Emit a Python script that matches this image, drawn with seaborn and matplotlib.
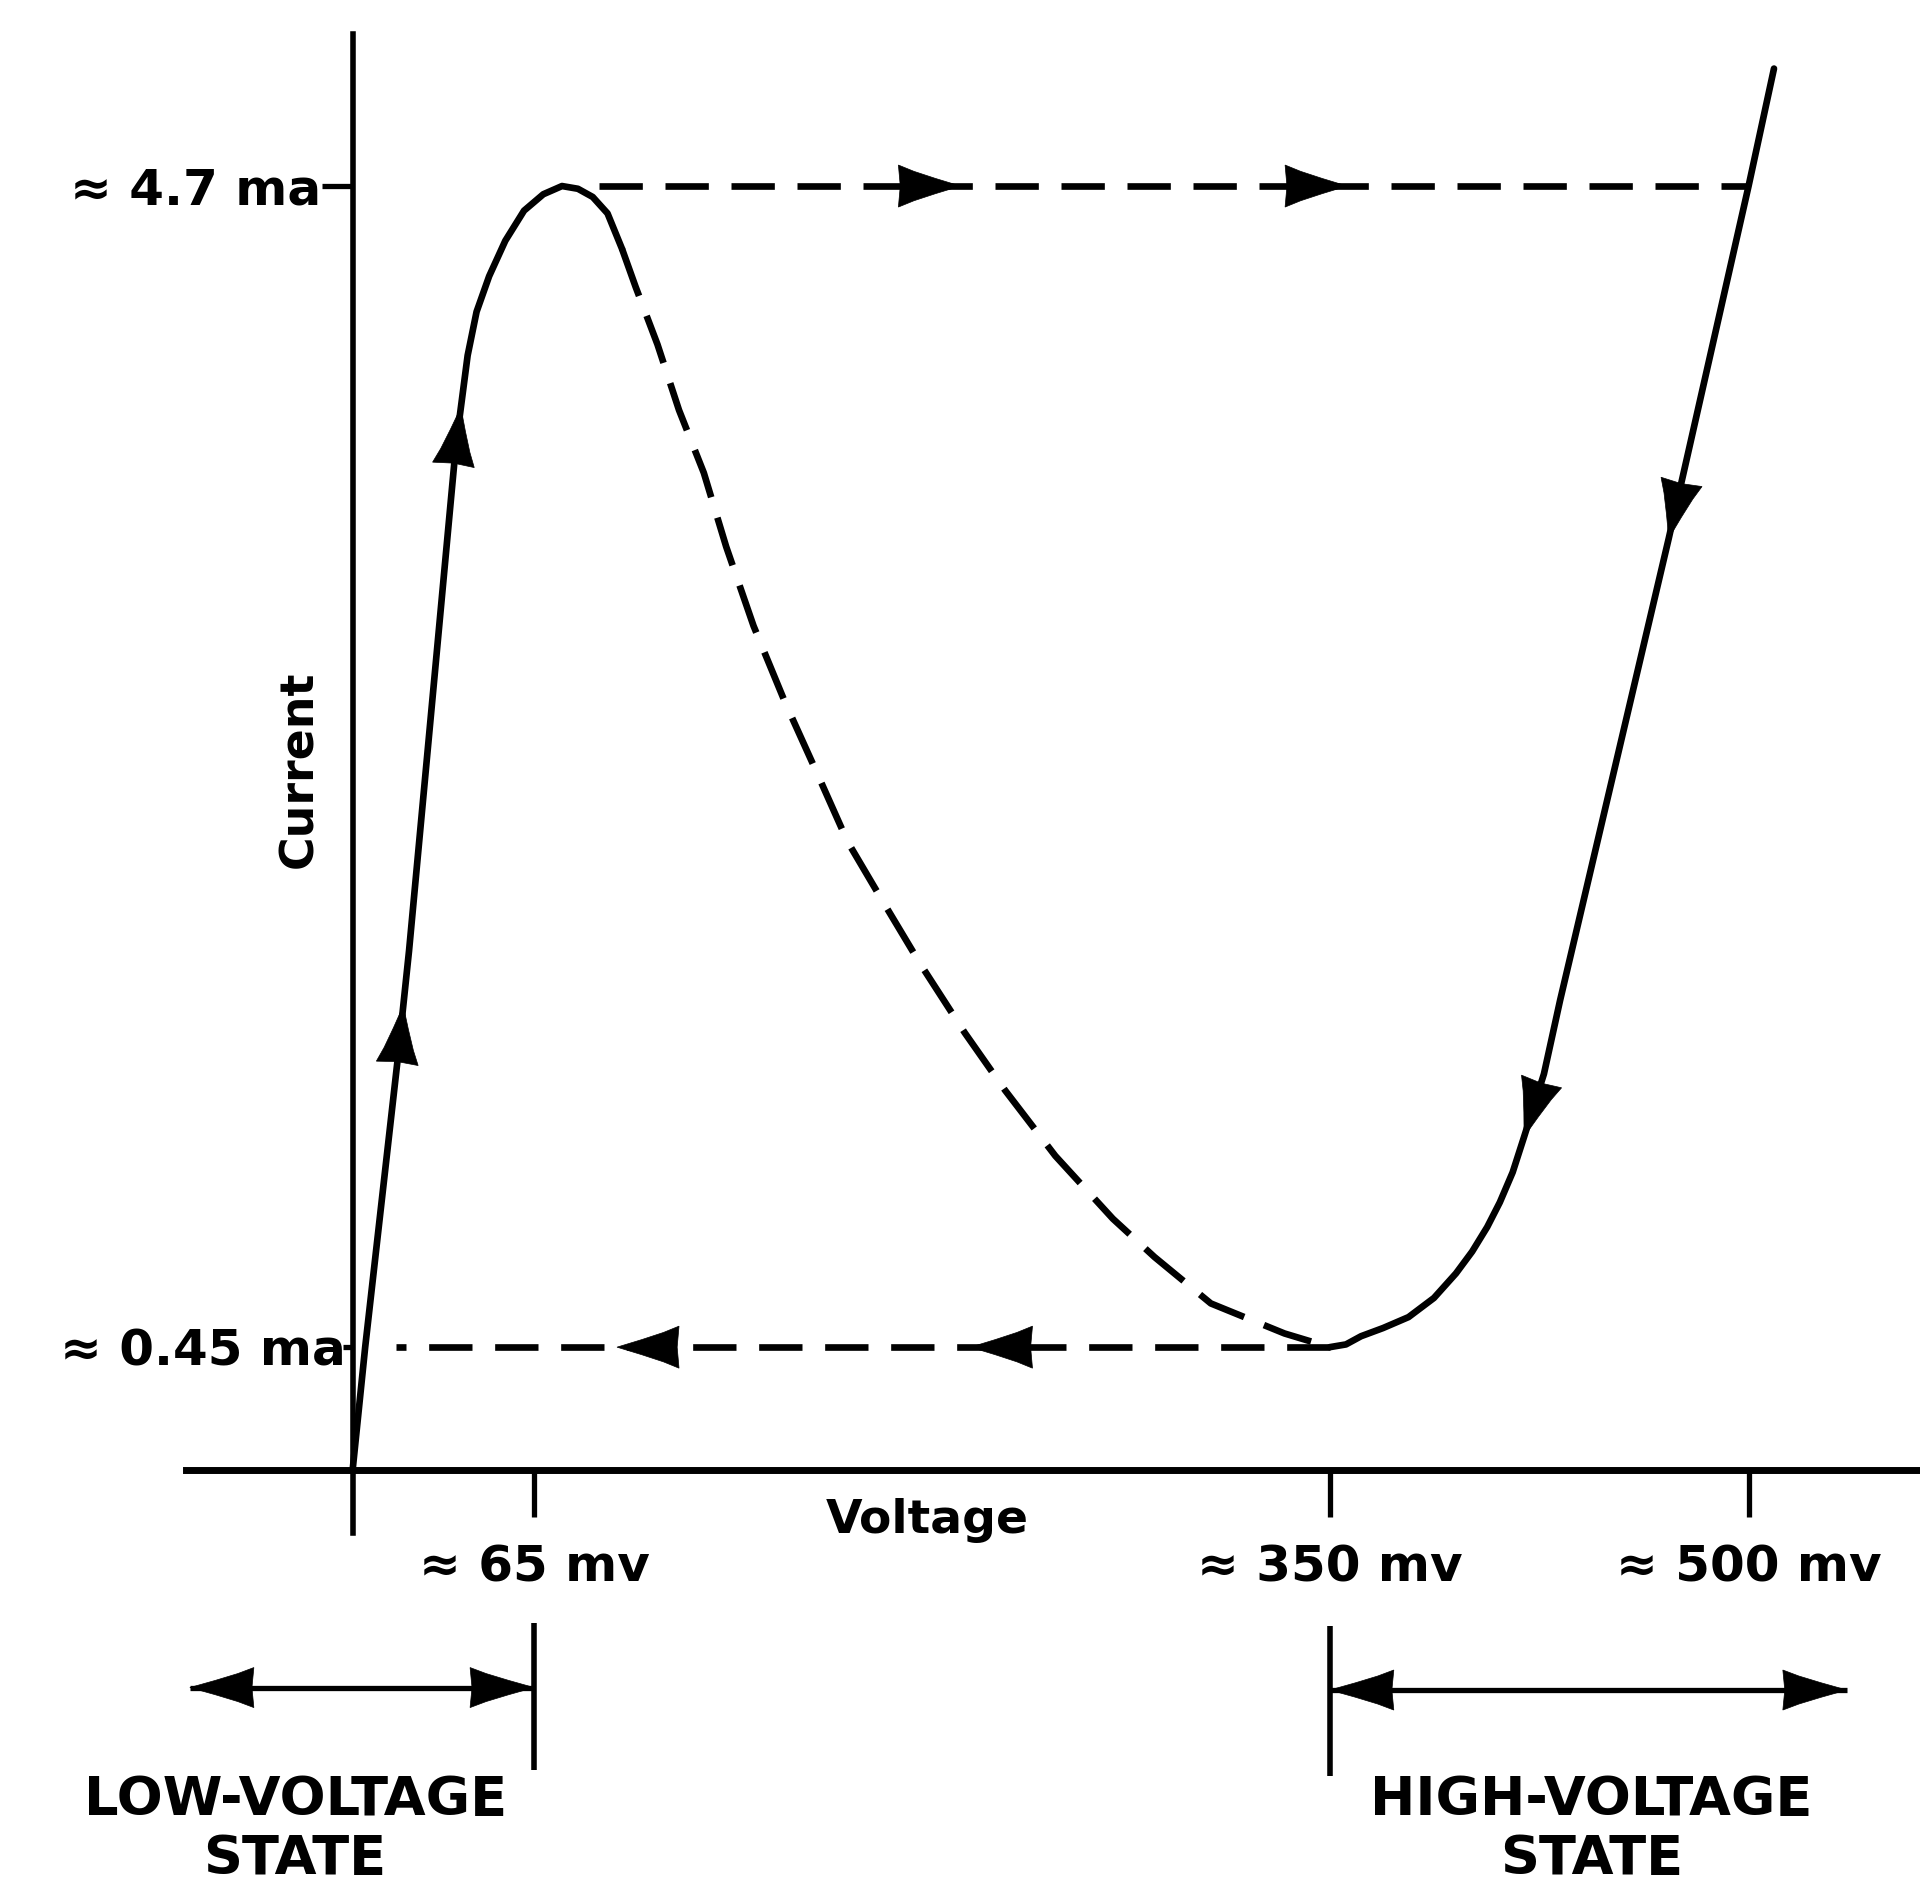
import numpy as np
import pandas as pd
import matplotlib
matplotlib.use("Agg")
import matplotlib.pyplot as plt
import seaborn as sns


# Values: voltage in mV, current in mA
# solid rise from the origin over the peak
rise_mv = [0, 4.5, 16.1, 20.2, 30.2, 37.0, 41.2, 44.4, 48.9, 54.7, 61.4,
           68.3, 75.0, 80.7, 86.0, 91.3, 96.5]
rise_ma = [0, 0.45, 1.50, 1.90, 3.00, 3.75, 4.08, 4.24, 4.37, 4.50, 4.61,
           4.67, 4.70, 4.69, 4.66, 4.60, 4.47]

# dashed negative-resistance branch, peak down to the valley
neg_mv = [96.5, 101.4, 109.2, 116.9, 125.8, 133.8, 143.6, 154.9, 166.4, 177.3,
          190.0, 203.5, 219.3, 233.7, 251.7, 272.3, 287.2, 307.4, 333.8, 350]
neg_ma = [4.47, 4.33, 4.12, 3.88, 3.65, 3.38, 3.09, 2.81, 2.55, 2.30,
          2.08, 1.85, 1.60, 1.39, 1.15, 0.92, 0.78, 0.61, 0.50, 0.45]

# solid high-voltage branch, from the top down to the valley
high_mv = [509.1, 500.0, 471.4, 432.5, 426.7, 419.6, 415.5, 410.9, 406.4, 401.0,
           395.2, 387.3, 378.2, 369.1, 361.2, 355.8, 350.0]
high_ma = [5.13, 4.70, 3.41, 1.72, 1.45, 1.22, 1.09, 0.98, 0.89, 0.80,
           0.72, 0.63, 0.56, 0.52, 0.49, 0.46, 0.45]

# switching jumps (dashed horizontals)
jump_up_mv = [88.1, 500]
jump_up_ma = [4.7, 4.7]
jump_down_mv = [350, 15.7]
jump_down_ma = [0.45, 0.45]

# arrow tips
rise_arrow_ma = [1.70, 3.89]
high_arrow_ma = [3.41, 1.22]
jump_up_arrow_mv = [217.7, 356.2]
jump_down_arrow_mv = [94.7, 221.3]

# axis ticks
x_ticks = [65, 350, 500]
x_labels = ["\u2248 65 mv", "\u2248 350 mv", "\u2248 500 mv"]
y_ticks = [0.45, 4.7]
y_labels = ["\u2248 0.45 ma", "\u2248 4.7 ma"]

# operating state ranges
low_state_mv = [-58.3, 65]
high_state_mv = [350, 535.2]
state_names = [("LOW-VOLTAGE", "STATE"), ("HIGH-VOLTAGE", "STATE")]


sns.set_style("white")
plt.rcParams["font.family"] = ["DejaVu Sans"]
plt.rcParams["font.weight"] = "bold"
plt.rcParams["text.color"] = "black"

fig = plt.figure(figsize=(19.2, 18.87), dpi=100)
ax = fig.add_axes([0, 0, 1, 1])
XLIM = (-126.3, 561.4)
YLIM = (-1.526, 5.381)
ax.set_xlim(*XLIM)
ax.set_ylim(*YLIM)

LW = 4.8
solid = dict(color="black", lw=LW, sort=False, estimator=None, legend=False)

sns.lineplot(data=pd.DataFrame({"mv": rise_mv, "ma": rise_ma}), x="mv", y="ma",
             ax=ax, zorder=3, solid_joinstyle="round", **solid)
sns.lineplot(data=pd.DataFrame({"mv": high_mv, "ma": high_ma}), x="mv", y="ma",
             ax=ax, zorder=3, solid_joinstyle="round", **solid)
sns.lineplot(data=pd.DataFrame({"mv": neg_mv, "ma": neg_ma}), x="mv", y="ma",
             ax=ax, zorder=2, linestyle=(0, (7.5, 3.2)), **solid)
sns.lineplot(data=pd.DataFrame({"mv": jump_up_mv, "ma": jump_up_ma}), x="mv", y="ma",
             ax=ax, zorder=2, linestyle=(0, (6.5, 3.4)), **solid)
sns.lineplot(data=pd.DataFrame({"mv": jump_down_mv, "ma": jump_down_ma}), x="mv", y="ma",
             ax=ax, zorder=2, linestyle=(0, (6.5, 3.4)), **solid)
ax.set_xlabel("")
ax.set_ylabel("")
ax.set_xlim(*XLIM)
ax.set_ylim(*YLIM)


def draw_head(tip, back, L=58, H=21):
    # filled arrowhead with slightly hollow sides, drawn in pixel space
    T = ax.transData
    p = T.transform(tip)
    q = T.transform(back)
    u = (p - q) / np.hypot(*(p - q))
    n = np.array([-u[1], u[0]])
    shape = [(0, 0), (-0.4, 0.36), (-0.75, 0.7), (-1, 1), (-0.97, 0),
             (-1, -1), (-0.75, -0.7), (-0.4, -0.36)]
    pts = np.array([p + a * L * u + b * H * n for a, b in shape])
    d = T.inverted().transform(pts)
    ax.fill(d[:, 0], d[:, 1], color="black", lw=0.5, ec="black", zorder=5)


def head_on_path(xs, ys, value, key, **kw):
    data = np.column_stack([xs, ys]).astype(float)
    k = 0 if key == "x" else 1
    for i in range(len(data) - 1):
        a, b = data[i, k], data[i + 1, k]
        if a != b and (a - value) * (b - value) <= 0:
            t = (value - a) / (b - a)
            tip = data[i] + t * (data[i + 1] - data[i])
            draw_head(tip, tip - (data[i + 1] - data[i]), **kw)
            return


for v in rise_arrow_ma:
    head_on_path(rise_mv, rise_ma, v, "y")
for v in high_arrow_ma:
    head_on_path(high_mv, high_ma, v, "y")
for v in jump_up_arrow_mv:
    head_on_path(jump_up_mv, jump_up_ma, v, "x", L=62, H=21)
for v in jump_down_arrow_mv:
    head_on_path(jump_down_mv, jump_down_ma, v, "x", L=62, H=21)

# axes through the origin
for s in ["top", "right"]:
    ax.spines[s].set_visible(False)
ax.spines["left"].set_position(("data", 0))
ax.spines["bottom"].set_position(("data", 0))
ax.spines["left"].set_bounds(-0.231, 5.255)
ax.spines["bottom"].set_bounds(-59.6, XLIM[1])
ax.spines["left"].set_linewidth(4.0)
ax.spines["bottom"].set_linewidth(5.0)
for s in ["left", "bottom"]:
    ax.spines[s].set_color("black")
    ax.spines[s].set_zorder(4)

ax.set_xticks(x_ticks)
ax.set_yticks(y_ticks)
ax.tick_params(axis="x", direction="out", length=34, width=3.8, color="black",
               labelbottom=False, bottom=True)
ax.tick_params(axis="y", direction="out", length=22, width=3.8, color="black",
               labelleft=False, left=True)
ax.yaxis.get_major_ticks()[0].tick1line.set_markersize(7)

FS = 36
for v, lab in zip(x_ticks, x_labels):
    ax.text(v, -0.409, lab, ha="center", va="baseline", fontsize=FS,
            fontweight="bold")
for v, lab, off in zip(y_ticks, y_labels, [-5, -23]):
    ax.annotate(lab, xy=(0, v), xytext=(off, -13), textcoords="offset points",
                ha="right", va="baseline", fontsize=FS, fontweight="bold")

ax.text(-18.8, 2.566, "Current", rotation=90, ha="center", va="center",
        fontsize=33, fontweight="bold")
ax.text(206, -0.231, "Voltage", ha="center", va="baseline", fontsize=34,
        fontweight="bold")

# operating states below the axis
ax.vlines([low_state_mv[1]], -1.096, -0.558, color="black", lw=4.0)
ax.vlines([high_state_mv[0]], -1.118, -0.571, color="black", lw=4.0)
for rng, y in [(low_state_mv, -0.796), (high_state_mv, -0.805)]:
    ax.plot(rng, [y, y], color="black", lw=3.8, solid_capstyle="butt")
    draw_head((rng[0], y), (rng[1], y), L=64, H=20)
    draw_head((rng[1], y), (rng[0], y), L=64, H=20)

for x, (l1, l2) in zip([-20.6, 443.7], state_names):
    ax.text(x, -1.262, l1, ha="center", va="baseline", fontsize=39,
            fontweight="bold")
    ax.text(x, -1.478, l2, ha="center", va="baseline", fontsize=39,
            fontweight="bold")

ax.set_xlim(*XLIM)
ax.set_ylim(*YLIM)
fig.savefig("out.png", dpi=100)
